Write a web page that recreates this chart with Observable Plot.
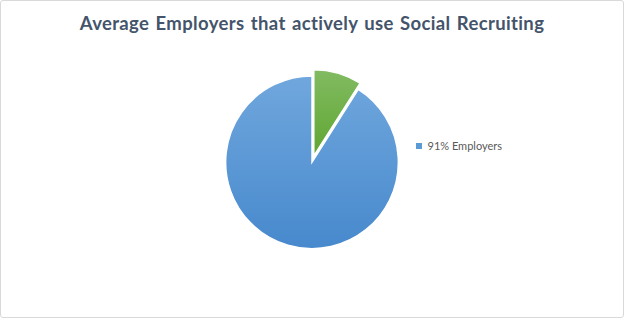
<!DOCTYPE html>
<html>
<head>
<meta charset="utf-8">
<script src="https://cdn.jsdelivr.net/npm/d3@7"></script>
<script src="https://cdn.jsdelivr.net/npm/@observablehq/plot@0.6"></script>
<style>
  html, body { margin: 0; padding: 0; background: #fff; }
  #chart {
    position: relative; width: 624px; height: 318px; box-sizing: border-box;
    border: 1px solid #d9d9d9; border-radius: 3px; overflow: hidden;
    font-family: Lato, "Open Sans", sans-serif;
  }
  #title {
    position: absolute; left: 0; right: 0; top: 11px; text-align: center;
    font-family: Lato, sans-serif; font-weight: 700; font-size: 18.5px; color: #44546a;
    letter-spacing: 0.35px; word-spacing: 1.5px;
  }
  #plot { position: absolute; left: -1px; top: -1px; }
  #legend { position: absolute; left: 415px; top: 128px; }
</style>
</head>
<body>
<div id="chart">
  <div id="title">Average Employers that actively use Social Recruiting</div>
  <div id="plot"></div>
  <div id="legend"></div>
</div>
<script>
// ---- data ----
const categories = ["Others", "Employers"];
const values = [9, 91];
const legendCategories = ["Employers"];
const legendLabels = ["91% Employers"];
const colors = ["#70ad47", "#5b9bd5"];
const gradientTop = ["#82bb62", "#70a7dd"];
const gradientBottom = ["#5fa631", "#4789cd"];

const data = categories.map((c, i) => ({category: c, value: values[i]}));

const color = Plot.scale({color: {type: "ordinal", domain: categories, range: colors}});

function pieMark(index, scales, vals, dimensions) {
  const cx = 312.5, cy = 162.5, r = 86.5, explode = 6.5;
  const g = d3.create("svg:g");
  const defs = g.append("defs");
  categories.forEach((c, i) => {
    const lg = defs.append("linearGradient")
      .attr("id", "grad" + i).attr("x1", 0).attr("y1", 0).attr("x2", 0).attr("y2", 1);
    lg.append("stop").attr("offset", "0%").attr("stop-color", gradientTop[i]);
    lg.append("stop").attr("offset", "100%").attr("stop-color", gradientBottom[i]);
  });
  const arcs = d3.pie().sort(null).value(d => d.value)(data);
  const arc = d3.arc().innerRadius(0).outerRadius(r);
  const order = arcs.slice().sort((a, b) => b.value - a.value);
  g.selectAll("path").data(order).join("path")
    .attr("d", arc)
    .attr("transform", d => {
      const isSmall = d.value === d3.min(values);
      const mid = (d.startAngle + d.endAngle) / 2;
      const ox = isSmall ? explode * Math.sin(mid) : 0;
      const oy = isSmall ? -explode * Math.cos(mid) : 0;
      return `translate(${cx + ox},${cy + oy})`;
    })
    .attr("fill", d => `url(#grad${categories.indexOf(d.data.category)})`)
    .attr("data-base", d => color.apply(d.data.category))
    .attr("stroke", "#fff")
    .attr("stroke-width", 1.5)
    .attr("stroke-linejoin", "miter");
  return g.node();
}

const plot = Plot.plot({
  width: 624,
  height: 318,
  margin: 0,
  x: {axis: null},
  y: {axis: null},
  marks: [pieMark]
});
document.getElementById("plot").appendChild(plot);

const legend = Plot.legend({
  color: {type: "ordinal", domain: legendCategories, range: [colors[1]]},
  legend: "swatches",
  swatchSize: 6,
  tickFormat: d => legendLabels[legendCategories.indexOf(d)],
  style: {fontFamily: "Lato, sans-serif", fontSize: "11px", color: "#595959"}
});
document.getElementById("legend").appendChild(legend);
</script>
</body>
</html>
